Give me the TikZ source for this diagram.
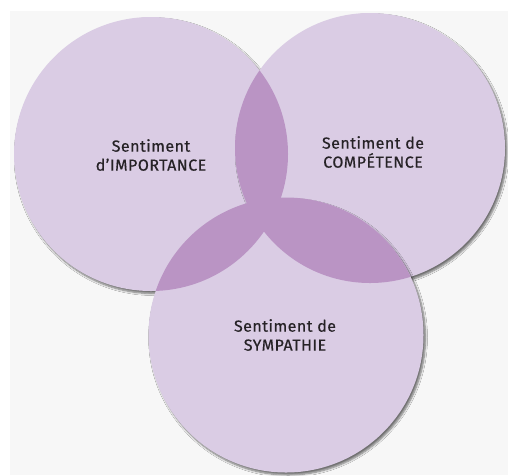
\documentclass[tikz,border=0pt]{standalone}
\usepackage{fontspec}
\setmainfont{Fira Sans}[LetterSpace=3,FakeBold=0.5]
\usetikzlibrary{shadows.blur}
\definecolor{lightlilac}{RGB}{218,204,228}
\definecolor{darklilac}{RGB}{186,148,196}
\definecolor{txt}{RGB}{38,34,38}
\definecolor{bgrey}{RGB}{247,247,247}
\begin{document}
\begin{tikzpicture}[x=1pt,y=-1pt,
  disk/.style={fill=lightlilac, blur shadow={shadow xshift=2pt, shadow yshift=-2.5pt, shadow blur steps=6, shadow blur radius=2pt, shadow opacity=55}},
  lens/.style={fill=darklilac},
  lbl/.style={text=txt, align=center, font=\fontsize{16}{19}\selectfont}]
\useasboundingbox (0,0) rectangle (508,475);
\fill[white] (0,0) rectangle (508,475);
\fill[bgrey] (10,11) rectangle (508,475);
\coordinate (cl) at (151,154);
\coordinate (cr) at (370,148);
\coordinate (cb) at (286,335);
\def\rl{137}\def\rr{135}\def\rb{137.5}
\fill[disk] (cl) circle[radius=\rl];
\fill[disk] (cr) circle[radius=\rr];
\fill[disk] (cb) circle[radius=\rb];
\begin{scope}
  \clip (cl) circle[radius=\rl];
  \fill[lens] (cr) circle[radius=\rr];
  \fill[lens] (cb) circle[radius=\rb];
\end{scope}
\begin{scope}
  \clip (cr) circle[radius=\rr];
  \fill[lens] (cb) circle[radius=\rb];
\end{scope}
\node[lbl] (tl) at (151,155) {Sentiment\\d’IMPORTANCE};
\node[lbl] (tr) at (373,152) {Sentiment de\\COMPÉTENCE};
\node[lbl] (tb) at (285,335) {Sentiment de\\SYMPATHIE};
\end{tikzpicture}
\end{document}
